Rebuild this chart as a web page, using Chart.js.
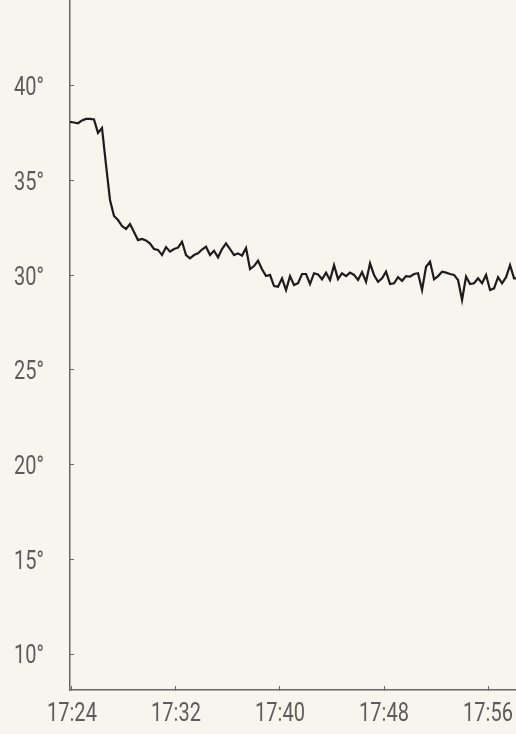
<!DOCTYPE html>
<html lang="en">
<head>
  <meta charset="UTF-8">
  <title>Temperature</title>
  <style>
    html, body { margin: 0; padding: 0; background: #f8f5ee; }
    .wrap { position: relative; width: 516px; height: 734px; }
  </style>
</head>
<body>
  <div class="wrap">
    <canvas id="grafico"></canvas>
  </div>

  <script src="https://cdn.jsdelivr.net/npm/chart.js"></script>

  <script>
    // readings, one every ~18.5 s from 17:23:51
    const startSec = 17 * 3600 + 23 * 60 + 51;
    const stepSec = 18.46;
    const temps = [
      38.10, 38.07, 38.03, 38.18, 38.26, 38.26, 38.23, 37.52, 37.78, 35.83,
      33.98, 33.13, 32.92, 32.60, 32.45, 32.71, 32.29, 31.86, 31.92, 31.84,
      31.68, 31.39, 31.34, 31.07, 31.49, 31.25, 31.39, 31.46, 31.77, 31.07,
      30.90, 31.07, 31.16, 31.36, 31.51, 31.07, 31.30, 30.95, 31.39, 31.69,
      31.39, 31.07, 31.16, 31.04, 31.44, 30.33, 30.49, 30.77, 30.32, 29.96,
      30.02, 29.43, 29.40, 29.84, 29.22, 29.96, 29.49, 29.58, 30.07, 30.07,
      29.54, 30.11, 30.05, 29.79, 30.14, 29.75, 30.54, 29.80, 30.11, 29.96,
      30.14, 30.02, 29.75, 30.17, 29.66, 30.63, 30.02, 29.66, 29.84, 30.19,
      29.54, 29.58, 29.90, 29.71, 29.96, 29.93, 30.07, 30.11, 29.22, 30.45,
      30.72, 29.79, 29.96, 30.19, 30.14, 30.07, 30.02, 29.75, 28.70, 29.93,
      29.54, 29.58, 29.84, 29.58, 30.02, 29.22, 29.31, 29.90, 29.58, 29.90,
      30.54, 29.84, 29.84
    ];
    const xTicks = ["17:24", "17:32", "17:40", "17:48", "17:56"];
    const yTicks = [10, 15, 20, 25, 30, 35, 40];

    const toSec = (hm) => {
      const [h, m] = hm.split(":").map(Number);
      return h * 3600 + m * 60;
    };
    const fmt = (s) => {
      const h = Math.floor(s / 3600);
      const m = Math.round((s - h * 3600) / 60);
      return h + ":" + String(m).padStart(2, "0");
    };

    const gris = "#666666";
    const texto = "#5c5c5c";

    // tick labels drawn narrow (condensed look), at the scale's own tick pixels
    const etiquetas = {
      id: "etiquetas",
      afterDraw(chart) {
        const ctx = chart.ctx;
        const { x, y } = chart.scales;
        const dibujar = (txt, px, py, align) => {
          ctx.save();
          ctx.translate(px, py);
          ctx.scale(0.77, 1);
          ctx.textAlign = align;
          ctx.fillText(txt, 0, 0);
          ctx.restore();
        };
        ctx.save();
        ctx.fillStyle = texto;
        ctx.font = "26px Roboto";
        ctx.textBaseline = "alphabetic";
        y.ticks.forEach(t => dibujar(t.value + "°", y.right - 26, y.getPixelForValue(t.value) + 9.3, "right"));
        x.ticks.forEach(t => dibujar(fmt(t.value), x.getPixelForValue(t.value), x.top + 30.5, "center"));
        ctx.restore();
      }
    };

    document.addEventListener("DOMContentLoaded", () => {
      const lienzo = document.getElementById("grafico");
      const puntos = temps.map((v, i) => ({ x: startSec + i * stepSec, y: v }));

      new Chart(lienzo, {
        type: "line",
        data: {
          datasets: [{
            data: puntos,
            borderColor: "#1c1c1c",
            borderWidth: 2.2,
            pointRadius: 0,
            tension: 0,
            fill: false
          }]
        },
        options: {
          responsive: true,
          maintainAspectRatio: false,
          animation: false,
          layout: { padding: 0 },
          plugins: { legend: { display: false }, tooltip: { enabled: false } },
          scales: {
            x: {
              type: "linear",
              min: toSec("17:23") + 51,
              max: toSec("17:58") + 9,
              border: { color: gris, width: 1.5 },
              grid: { drawOnChartArea: false, drawTicks: true, tickLength: -4, color: gris, lineWidth: 1 },
              ticks: { display: false },
              afterBuildTicks: (s) => { s.ticks = xTicks.map(t => ({ value: toSec(t) })); },
              afterFit: (s) => { s.height = 44; s.paddingLeft = 0; s.paddingRight = 0; }
            },
            y: {
              min: 8.1,
              max: 44.54,
              border: { color: gris, width: 1.5 },
              grid: { drawOnChartArea: false, drawTicks: true, tickLength: -4, color: gris, lineWidth: 1 },
              ticks: { display: false },
              afterBuildTicks: (s) => { s.ticks = yTicks.map(v => ({ value: v })); },
              afterFit: (s) => { s.width = 70; s.paddingTop = 0; s.paddingBottom = 0; }
            }
          }
        },
        plugins: [etiquetas]
      });
    });
  </script>
</body>
</html>
